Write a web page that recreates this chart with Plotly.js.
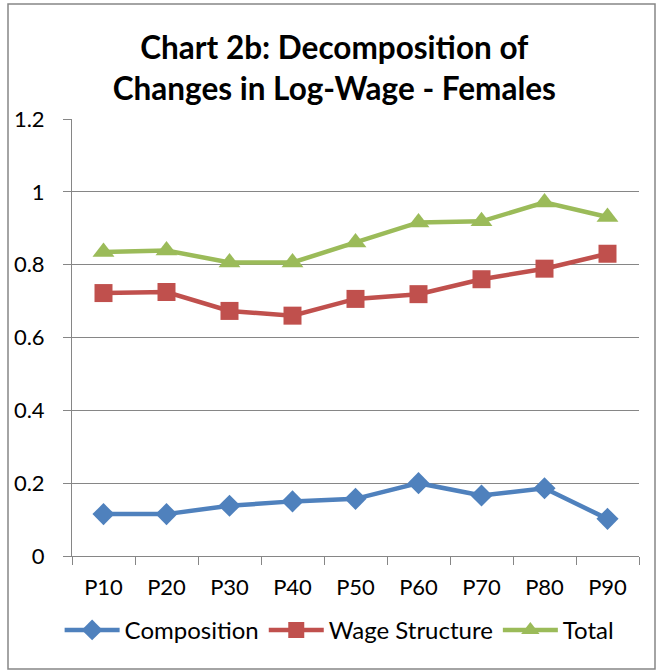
<!DOCTYPE html>
<html>
<head>
<meta charset="utf-8">
<script src="https://cdn.plot.ly/plotly-3.0.1.min.js"></script>
<style>html,body{margin:0;padding:0;background:#fff}#chart{width:662px;height:670px}</style>
</head>
<body>
<div id="chart"></div>
<script>
const categories = ["P10","P20","P30","P40","P50","P60","P70","P80","P90"];
const composition = [0.115, 0.115, 0.138, 0.150, 0.157, 0.200, 0.166, 0.186, 0.102];
const wageStructure = [0.722, 0.725, 0.673, 0.660, 0.706, 0.719, 0.760, 0.789, 0.830];
const total = [0.835, 0.839, 0.806, 0.806, 0.861, 0.916, 0.919, 0.971, 0.931];
const yTicks = [0, 0.2, 0.4, 0.6, 0.8, 1, 1.2];
const yTickText = ["0", "0.2", "0.4", "0.6", "0.8", "1", "1.2"];

const FONT = "Lato, 'Open Sans', sans-serif";
const traces = [
  {x: categories, y: composition, name: "Composition", type: "scatter", mode: "lines+markers",
   line: {color: "#4F81BD", width: 4.5}, marker: {symbol: "diamond", size: 17, color: "#4F81BD"}},
  {x: categories, y: wageStructure, name: "Wage Structure", type: "scatter", mode: "lines+markers",
   line: {color: "#C0504D", width: 4.5}, marker: {symbol: "square", size: 18, color: "#C0504D"}},
  {x: categories, y: total, name: "Total", type: "scatter", mode: "lines+markers",
   line: {color: "#9BBB59", width: 4.5}, marker: {symbol: "triangle-up", size: 19, color: "#9BBB59"}}
];
const W = 567, H = 437, L = 72, T = 119;
const layout = {
  width: 662, height: 670,
  margin: {l: L, r: 662 - L - W, t: T, b: 670 - T - H},
  paper_bgcolor: "#fff", plot_bgcolor: "#fff",
  font: {family: FONT, color: "#000"},
  showlegend: true,
  title: {text: "<b>Chart 2b: Decomposition of<br>Changes in Log-Wage - Females</b>",
          font: {family: FONT, size: 31.5, color: "#000"}, x: 0.505, xanchor: "center", y: 0.912, yanchor: "middle"},
  xaxis: {type: "category", tickson: "boundaries", ticks: "outside", ticklen: 8, tickcolor: "#868686",
          showgrid: false, showline: true, linecolor: "#868686", linewidth: 1,
          tickfont: {family: FONT, size: 22, color: "#000"}, range: [-0.5, 8.5], ticklabelstandoff: 12},
  yaxis: {range: [0, 1.2], tickvals: yTicks, ticktext: yTickText, ticks: "outside", ticklen: 8, tickcolor: "#868686",
          showgrid: true, gridcolor: "#868686", gridwidth: 1, showline: true, linecolor: "#868686", linewidth: 1,
          zeroline: false, tickfont: {family: FONT, size: 22, color: "#000"}, ticklabelstandoff: 14},
  legend: {orientation: "h", x: 0.472, xanchor: "center", y: -0.17, yanchor: "middle",
           font: {family: FONT, size: 24, color: "#000"}, itemwidth: 55, tracegroupgap: 0},
  shapes: [{type: "rect", xref: "paper", yref: "paper",
            x0: (8 - L) / W, x1: (655 - L) / W, y0: (T + H - 669) / H, y1: (T + H - 4) / H,
            line: {color: "#868686", width: 1.5}, fillcolor: "rgba(0,0,0,0)", layer: "below"}]
};
Plotly.newPlot("chart", traces, layout, {displayModeBar: false, staticPlot: true});
</script>
</body>
</html>
